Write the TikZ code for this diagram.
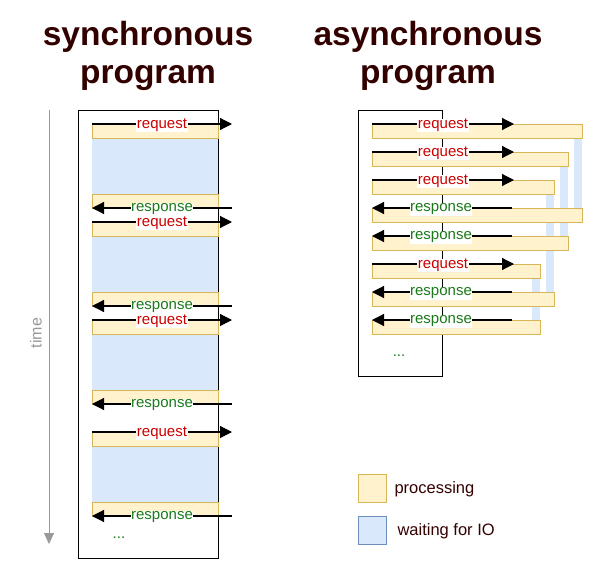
\documentclass[tikz,border=0pt]{standalone}
\usepackage{fontspec}
\setmainfont{Liberation Sans}
\usetikzlibrary{arrows.meta}

\definecolor{procfill}{HTML}{FFF2CC}
\definecolor{procline}{HTML}{D6B656}
\definecolor{waitfill}{HTML}{DAE8FC}
\definecolor{waitline}{HTML}{6C8EBF}
\definecolor{titlecol}{HTML}{330000}
\definecolor{reqcol}{HTML}{CC0000}
\definecolor{respcol}{HTML}{1A7A1A}
\definecolor{timecol}{HTML}{999999}

\tikzset{
  proc/.style={fill=procfill, draw=procline, line width=1pt},
  wait/.style={fill=waitfill},
  msg/.style={line width=1.2pt, -{Triangle[length=12pt,width=12pt]}},
  reqlabel/.style={text=reqcol, fill=white, inner sep=0.5pt, yshift=-1.5pt, font=\fontsize{15}{15}\selectfont},
  resplabel/.style={text=respcol, fill=white, inner sep=0.5pt, yshift=-1.5pt, font=\fontsize{15}{15}\selectfont},
  heading/.style={text=titlecol, anchor=base, font=\fontsize{33.5}{38}\selectfont\bfseries},
  legendtext/.style={text=titlecol, anchor=west, font=\fontsize{16.5}{17}\selectfont}
}

\begin{document}
\begin{tikzpicture}[x=1pt,y=-1pt]
  \useasboundingbox (0,0) rectangle (598,573);

  % Titles
  \node[heading] (synctitle) at (148,45) {synchronous};
  \node[heading] (syncprog) at (148,83) {program};
  \node[heading] (asynctitle) at (428,45) {asynchronous};
  \node[heading] (asyncprog) at (428,83) {program};

  % Time axis
  \coordinate (ttop) at (49,110);
  \coordinate (tbot) at (49,544);
  \draw[timecol, line width=1pt, -{Triangle[length=11pt,width=10pt]}] (ttop) -- (tbot);
  \node[timecol, rotate=90, font=\fontsize{16}{16}\selectfont] (timelabel) at (36,333) {time};

  % Synchronous program
  \draw[line width=1pt] (78,110) rectangle (218,558);
  \foreach \y in {124,222,320,432} {
    \fill[wait] (92,\y+14) rectangle (218,\y+70);
    \draw[proc] (92,\y) rectangle (218,\y+14);
    \draw[proc] (92,\y+70) rectangle (218,\y+84);
    \coordinate (sqa\y) at (92,\y);
    \coordinate (sqb\y) at (232,\y);
    \coordinate (spa\y) at (232,\y+84);
    \coordinate (spb\y) at (92,\y+84);
    \draw[msg] (sqa\y) -- node[reqlabel] {request} (sqb\y);
    \draw[msg] (spa\y) -- node[resplabel] {response} (spb\y);
  }
  \node[text=respcol, font=\fontsize{15}{15}\selectfont] (syncdots) at (119,538) {...};

  % Asynchronous program
  \draw[line width=1pt] (358,110) rectangle (442,376);

  % Waiting bars
  \foreach \xa/\ya/\yb in {574/138/208, 560/166/236, 546/194/292, 532/278/320} {
    \fill[wait] (\xa,\ya) rectangle (\xa+8,\yb);
  }

  % Processing rows
  \foreach \y/\xe in {124/582, 152/568, 180/554, 208/582, 236/568, 264/540, 292/554, 320/540} {
    \draw[proc] (372,\y) rectangle (\xe,\y+14);
  }

  % Requests
  \foreach \y in {124,152,180,264} {
    \coordinate (aqa\y) at (372,\y);
    \coordinate (aqb\y) at (514,\y);
    \draw[msg] (aqa\y) -- node[reqlabel] {request} (aqb\y);
  }

  % Responses
  \foreach \y in {208,236,292,320} {
    \coordinate (apa\y) at (512,\y);
    \coordinate (apb\y) at (372,\y);
    \draw[msg] (apa\y) -- node[resplabel, xshift=-1pt] {response} (apb\y);
  }
  \node[text=respcol, font=\fontsize{15}{15}\selectfont] (asyncdots) at (399,356) {...};

  % Legend
  \draw[proc] (358,474) rectangle (386,502);
  \node[legendtext] (legproc) at (391,489) {processing};
  \draw[fill=waitfill, draw=waitline, line width=1pt] (358,516) rectangle (386,544);
  \node[legendtext] (legwait) at (394,531) {waiting for IO};
\end{tikzpicture}
\end{document}
